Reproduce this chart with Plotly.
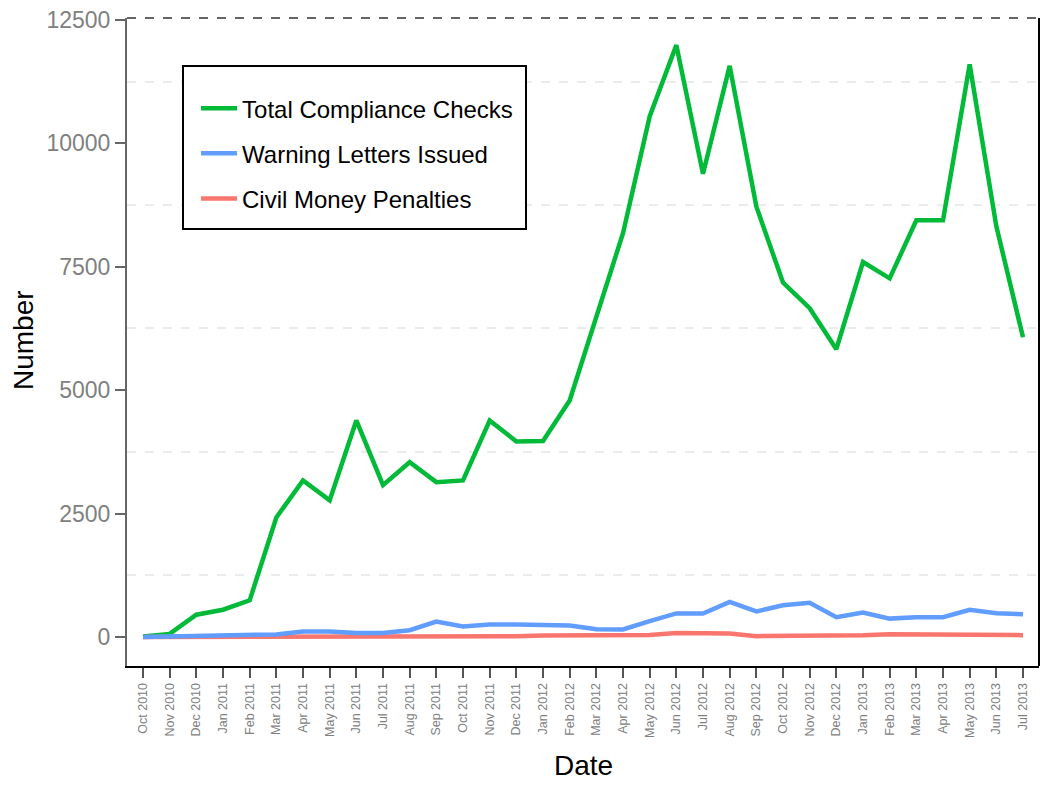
import plotly.graph_objects as go

months = ["Oct 2010", "Nov 2010", "Dec 2010",
          "Jan 2011", "Feb 2011", "Mar 2011", "Apr 2011", "May 2011", "Jun 2011",
          "Jul 2011", "Aug 2011", "Sep 2011", "Oct 2011", "Nov 2011", "Dec 2011",
          "Jan 2012", "Feb 2012", "Mar 2012", "Apr 2012", "May 2012", "Jun 2012",
          "Jul 2012", "Aug 2012", "Sep 2012", "Oct 2012", "Nov 2012", "Dec 2012",
          "Jan 2013", "Feb 2013", "Mar 2013", "Apr 2013", "May 2013", "Jun 2013",
          "Jul 2013"]

total_checks = [10, 60, 450, 550, 740, 2420, 3170, 2765, 4385,
                3075, 3540, 3135, 3170, 4385, 3960,
                3970, 4790, 6450, 8180, 10545, 11990,
                9385, 11570, 8720, 7180, 6660, 5830,
                7595, 7265, 8440, 8440, 11600, 8320,
                6070]

warning_letters = [0, 10, 20, 20, 30, 50, 110, 110, 80,
                   80, 135, 310, 210, 250, 250,
                   235, 230, 155, 150, 320, 475,
                   475, 710, 515, 640, 690, 400,
                   495, 370, 400, 400, 550, 480,
                   460]

civil_penalties = [0, 0, 0, 0, 5, 10, 20, 20, 20,
                   20, 15, 15, 15, 15, 15,
                   30, 35, 45, 40, 40, 80,
                   70, 70, 15, 15, 15, 25,
                   35, 55, 55, 55, 55, 35,
                   35]

y_ticks = [0, 2500, 5000, 7500, 10000, 12500]

# (name, values, colour, legend rank); drawn in this order (blue on top)
series = [
    ("Total Compliance Checks", total_checks, "#00BA38", 1),
    ("Civil Money Penalties", civil_penalties, "#F8766D", 3),
    ("Warning Letters Issued", warning_letters, "#619CFF", 2),
]

FONT = "Liberation Sans, Arial, sans-serif"

fig = go.Figure()
for name, vals, col, rank in series:
    fig.add_trace(go.Scatter(
        x=months, y=vals, mode="lines", name=name, legendgroup=name,
        legendrank=rank,
        line=dict(color=col, width=4.5),
    ))

fig.update_layout(
    width=1042, height=777,
    margin=dict(l=119, r=11, t=10, b=119),
    paper_bgcolor="white", plot_bgcolor="white",
    font=dict(family=FONT, color="black"),
    showlegend=True,
    legend=dict(
        x=0.0757, y=0.895, xanchor="left", yanchor="top",
        bgcolor="rgba(0,0,0,0)", borderwidth=0,
        font=dict(size=24, family=FONT, color="black"),
        traceorder="grouped", tracegroupgap=11,
        itemwidth=36,
    ),
    xaxis=dict(
        type="category",
        range=[-0.6, 33.6],
        automargin=False,
        showgrid=False, zeroline=False,
        showline=True, linecolor="black", linewidth=2,
        ticks="outside", ticklen=10, tickwidth=2, tickcolor="#555555",
        tickangle=-90,
        tickfont=dict(size=12.5, color="#808080", family=FONT),
    ),
    yaxis=dict(
        range=[-590, 12540],
        automargin=False,
        tickvals=y_ticks,
        ticktext=[str(v) for v in y_ticks],
        ticklabeloverflow="allow",
        showgrid=False, zeroline=False,
        showline=True, linecolor="#666666", linewidth=2,
        ticks="outside", ticklen=10, tickwidth=2, tickcolor="#666666",
        tickfont=dict(size=23, color="#808080", family=FONT),
        minor=dict(tick0=1250, dtick=2500, showgrid=True, gridcolor="#ebebeb",
                   griddash="dash", gridwidth=1.5, ticks=""),
    ),
    annotations=[
        dict(text="Date", xref="paper", yref="paper", x=0.5, y=0,
             xanchor="center", yanchor="middle", yshift=-99, showarrow=False,
             font=dict(size=28, color="black", family=FONT)),
        dict(text="Number", xref="paper", yref="paper", x=0, y=0.5,
             xanchor="center", yanchor="middle", xshift=-104, yshift=2,
             textangle=-90, showarrow=False,
             font=dict(size=28, color="black", family=FONT)),
    ],
    shapes=[
        dict(type="line", xref="paper", yref="paper", x0=1, x1=1, y0=0, y1=1,
             line=dict(color="black", width=2)),
        dict(type="line", xref="paper", yref="paper", x0=0, x1=1, y0=1, y1=1,
             line=dict(color="#333333", width=1.5, dash="dash")),
        # legend frame
        dict(type="rect", xref="paper", yref="paper",
             x0=0.0614, x1=0.4375, y0=0.6744, y1=0.9259,
             fillcolor="white", line=dict(color="black", width=2), layer="above"),
    ],
)

fig.write_html("out.html")
